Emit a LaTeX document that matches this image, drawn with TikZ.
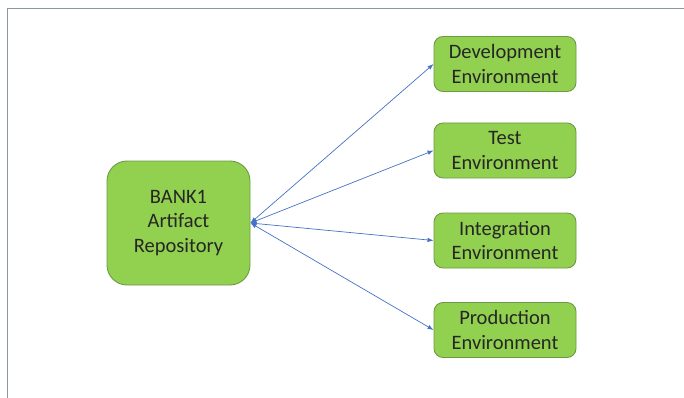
\documentclass[tikz,border=0pt]{standalone}
\usepackage{fontspec}
\setmainfont{Carlito}
\usetikzlibrary{arrows.meta}
\definecolor{boxfill}{HTML}{92D050}
\definecolor{boxdraw}{HTML}{6F9A45}
\definecolor{arrowc}{HTML}{4472C4}
\definecolor{framec}{HTML}{8A979E}
\begin{document}
\begin{tikzpicture}[x=1pt,y=-1pt,
  box/.style={draw=boxdraw, fill=boxfill, line width=0.9pt, align=center,
    font=\fontsize{20.5}{24.5}\selectfont, text=black!85, inner sep=0pt},
  envbox/.style={box, rounded corners=9pt, minimum width=142pt, minimum height=55pt},
  mainbox/.style={box, rounded corners=20pt, minimum width=143pt, minimum height=124pt},
  link/.style={draw=arrowc, line width=0.7pt, {Latex[length=6pt,width=4.5pt]}-{Latex[length=6pt,width=4.5pt]}}]
\useasboundingbox (0,0) rectangle (684,398);
\coordinate (f1) at (7,398);
\coordinate (f2) at (7,8);
\coordinate (f3) at (684,8);
\draw[framec, line width=0.8pt] (f1) -- (f2) -- (f3);
\node[mainbox] (repo) at (178.5,223) {BANK1\\Artifact\\Repository};
\node[envbox] (dev) at (505,64) {Development\\Environment};
\node[envbox] (test) at (505,150.5) {Test\\Environment};
\node[envbox] (int) at (505,240.5) {Integration\\Environment};
\node[envbox] (prod) at (505,330) {Production\\Environment};
\draw[link] (repo.east) -- (dev.west);
\draw[link] (repo.east) -- (test.west);
\draw[link] (repo.east) -- (int.west);
\draw[link] (repo.east) -- (prod.west);
\end{tikzpicture}
\end{document}
